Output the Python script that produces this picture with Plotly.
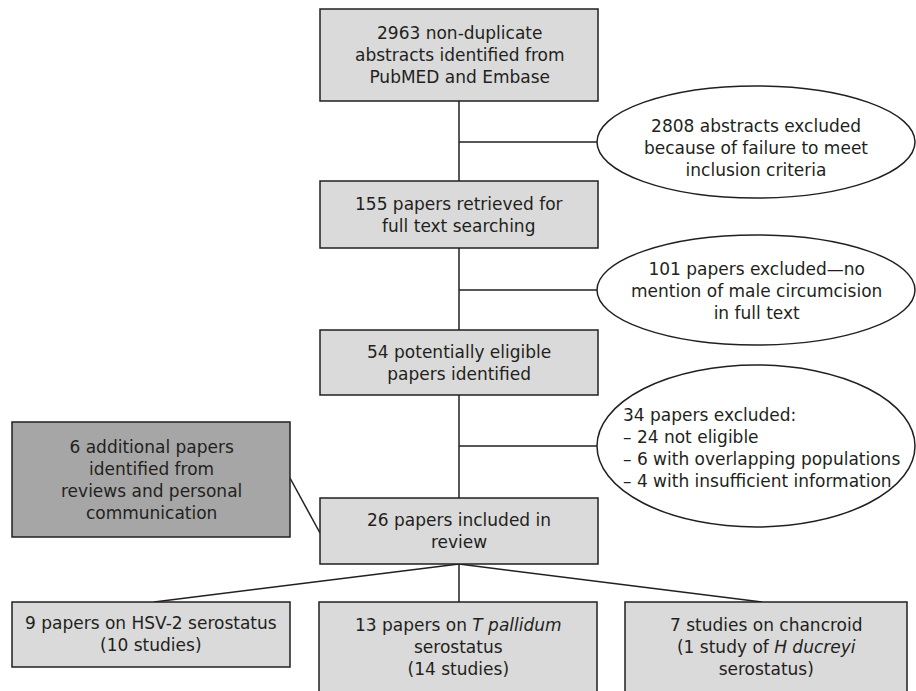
import plotly.graph_objects as go

# ---- data (flowchart content) ----
main_steps = [
    "2963 non-duplicate<br>abstracts identified from<br>PubMED and Embase",
    "155 papers retrieved for<br>full text searching",
    "54 potentially eligible<br>papers identified",
    "26 papers included in<br>review",
]
exclusions = [
    "2808 abstracts excluded<br>because of failure to meet<br>inclusion criteria",
    "101 papers excluded—no<br>mention of male circumcision<br>in full text",
    "34 papers excluded:<br>– 24 not eligible<br>– 6 with overlapping populations<br>– 4 with insufficient information",
]
additional = "6 additional papers<br>identified from<br>reviews and personal<br>communication"
outcomes = [
    "9 papers on HSV-2 serostatus<br>(10 studies)",
    "13 papers on <i>T pallidum</i><br>serostatus<br>(14 studies)",
    "7 studies on chancroid<br>(1 study of <i>H ducreyi</i><br>serostatus)",
]

# ---- layout geometry ----
W, H = 916, 691
INK = "#231f20"
LIGHT = "#dadada"
DARK = "#a6a6a6"
FONT = dict(family="'DejaVu Sans', sans-serif", size=17, color=INK)

main_boxes = [(320, 9, 598, 101), (320, 181, 598, 248), (320, 330, 598, 395), (320, 498, 598, 564)]
ellipses = [(597, 86, 915, 198), (597, 235, 915, 345), (597, 365, 915, 527)]
branch_y = [142, 290, 446]
text_y_ell = [148, 291, 448]
gray_box = (12, 422, 290, 537)
out_boxes = [(12, 602, 290, 667), (319, 602, 597, 700), (625, 602, 907, 700)]
out_text_y = [634, 647, 647]
cx = 459

shapes = []
annotations = []
line = dict(color=INK, width=1.5)

# connectors
shapes.append(dict(type="line", x0=cx, y0=101, x1=cx, y1=181, line=line))
shapes.append(dict(type="line", x0=cx, y0=248, x1=cx, y1=330, line=line))
shapes.append(dict(type="line", x0=cx, y0=395, x1=cx, y1=498, line=line))
for by in branch_y:
    shapes.append(dict(type="line", x0=cx, y0=by, x1=597, y1=by, line=line))
shapes.append(dict(type="line", x0=290, y0=478, x1=320, y1=533, line=line))
shapes.append(dict(type="line", x0=cx, y0=564, x1=154, y1=602, line=line))
shapes.append(dict(type="line", x0=cx, y0=564, x1=cx, y1=602, line=line))
shapes.append(dict(type="line", x0=cx, y0=564, x1=762, y1=602, line=line))

# main boxes
for (x0, y0, x1, y1), txt in zip(main_boxes, main_steps):
    shapes.append(dict(type="rect", x0=x0, y0=y0, x1=x1, y1=y1, fillcolor=LIGHT, line=line))
    annotations.append(dict(x=(x0 + x1) / 2, y=(y0 + y1) / 2, text=txt, showarrow=False,
                            font=FONT, align="center", xanchor="center", yanchor="middle"))

# exclusion ellipses
for i, ((x0, y0, x1, y1), txt) in enumerate(zip(ellipses, exclusions)):
    shapes.append(dict(type="circle", x0=x0, y0=y0, x1=x1, y1=y1, fillcolor="white", line=line))
    if i < 2:
        annotations.append(dict(x=(x0 + x1) / 2, y=text_y_ell[i], text=txt, showarrow=False,
                                font=FONT, align="center", xanchor="center", yanchor="middle"))
    else:
        annotations.append(dict(x=621, y=text_y_ell[i], text=txt, showarrow=False,
                                font=FONT, align="left", xanchor="left", yanchor="middle"))

# additional papers box
x0, y0, x1, y1 = gray_box
shapes.append(dict(type="rect", x0=x0, y0=y0, x1=x1, y1=y1, fillcolor=DARK, line=line))
annotations.append(dict(x=(x0 + x1) / 2, y=(y0 + y1) / 2, text=additional, showarrow=False,
                        font=FONT, align="center", xanchor="center", yanchor="middle"))

# outcome boxes
for (x0, y0, x1, y1), txt, ty in zip(out_boxes, outcomes, out_text_y):
    shapes.append(dict(type="rect", x0=x0, y0=y0, x1=x1, y1=y1, fillcolor=LIGHT, line=line))
    annotations.append(dict(x=(x0 + x1) / 2, y=ty, text=txt, showarrow=False,
                            font=FONT, align="center", xanchor="center", yanchor="middle"))

fig = go.Figure()
fig.update_layout(
    width=W, height=H,
    margin=dict(l=0, r=0, t=0, b=0),
    paper_bgcolor="white", plot_bgcolor="white",
    xaxis=dict(range=[0, W], visible=False, fixedrange=True),
    yaxis=dict(range=[H, 0], visible=False, fixedrange=True),
    shapes=shapes, annotations=annotations, showlegend=False,
)
fig.write_html("out.html", config={"displayModeBar": False},
               post_script="document.body.style.margin='0';")
